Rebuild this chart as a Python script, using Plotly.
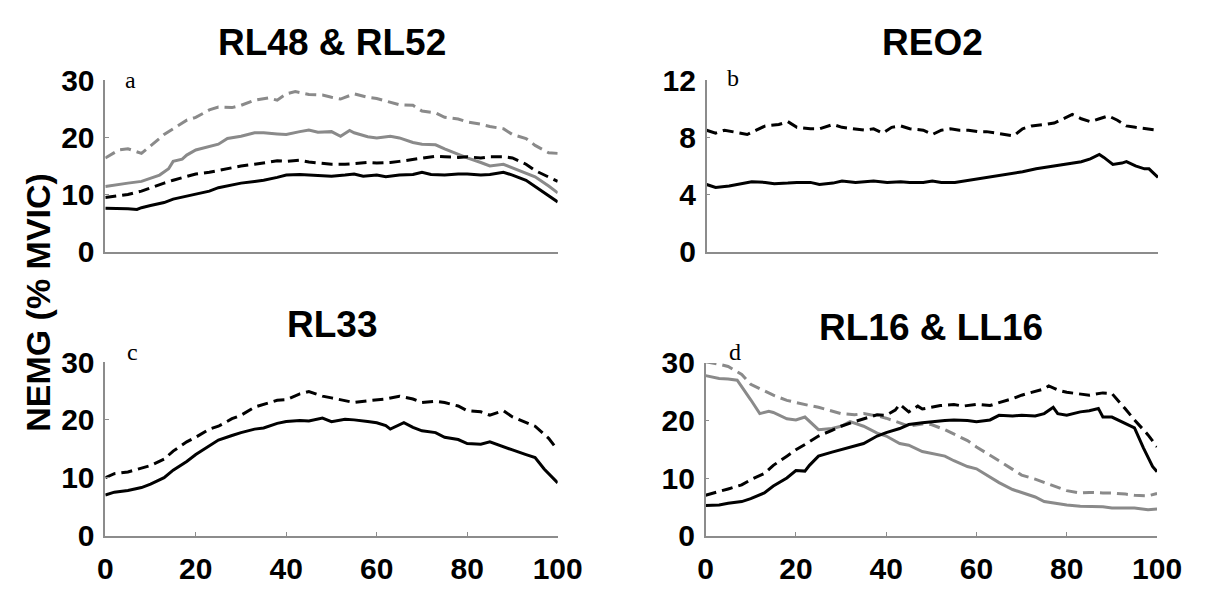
import plotly.graph_objects as go

# ---------------- data (x = % of cycle, y = NEMG % MVIC) ----------------
# Panel a: RL48 & RL52
a_gd_x = [0,3,5,8,10,13,15,18,20,23,25,28,30,33,36,38,40,42,45,48,50,52,55,58,60,63,65,68,70,73,75,78,80,83,85,88,90,93,95,98,100]
a_gd_y = [16.4,17.8,18.0,17.2,18.5,20.5,21.5,23,23.5,24.8,25.3,25.2,25.6,26.5,26.9,26.5,27.6,28,27.5,27.4,27,26.7,27.6,27,26.8,26.1,25.7,25.6,24.6,24.3,23.5,23.2,22.7,22.3,21.9,21.5,20.5,19.8,18.6,17.3,17.2]
a_gs_x = [0,3,5,8,10,12,14,15,17,18,20,22,25,27,30,33,35,38,40,43,45,47,50,52,54,55,58,60,63,65,68,70,73,75,78,80,83,85,88,90,93,95,98,100]
a_gs_y = [11.4,11.8,12,12.3,12.8,13.4,14.5,15.8,16.2,16.9,17.8,18.2,18.8,19.8,20.2,20.8,20.8,20.6,20.5,21,21.3,20.9,21,20.2,21.2,20.8,20.1,19.9,20.2,19.9,19.1,18.8,18.7,18,17,16.4,15.6,15,15.3,14.7,13.7,13.1,11.5,10.3]
a_bd_x = [0,3,5,8,10,13,15,18,20,23,25,28,30,33,35,38,40,43,45,48,50,53,55,58,60,63,65,68,70,73,75,78,80,83,85,88,90,93,95,98,100]
a_bd_y = [9.5,9.8,10,10.6,11.2,12,12.5,13.2,13.6,13.9,14.2,14.7,15,15.3,15.5,15.9,15.8,16,15.7,15.4,15.3,15.3,15.4,15.6,15.5,15.6,15.8,16.1,16.4,16.7,16.6,16.5,16.6,16.4,16.6,16.6,16.4,15.3,14.2,13,12.3]
a_bs_x = [0,3,5,7,8,10,13,15,18,20,23,25,28,30,33,35,38,40,43,45,48,50,53,55,57,60,62,65,68,70,72,75,78,80,83,85,88,90,93,95,98,100]
a_bs_y = [7.6,7.6,7.5,7.4,7.7,8.1,8.6,9.2,9.7,10,10.6,11.2,11.7,12,12.3,12.5,13,13.4,13.5,13.4,13.2,13.2,13.4,13.6,13.2,13.4,13.1,13.4,13.5,13.9,13.5,13.4,13.6,13.6,13.4,13.5,13.9,13.4,12.5,11.4,9.7,8.7]

# Panel b: REO2
b_bd_x = [0,2,4,6,9,11,13,16,18,20,23,25,27,28,30,32,35,37,39,41,43,45,48,50,52,54,56,58,60,62,64,66,68,70,72,75,77,79,81,83,85,87,89,91,93,95,97,100]
b_bd_y = [8.5,8.3,8.5,8.4,8.2,8.5,8.8,8.9,9.1,8.7,8.6,8.6,8.8,8.9,8.7,8.6,8.5,8.6,8.3,8.7,8.8,8.6,8.5,8.2,8.5,8.6,8.5,8.5,8.4,8.4,8.3,8.2,8.1,8.6,8.8,8.9,9.0,9.3,9.6,9.3,9.1,9.3,9.5,9.2,8.8,8.7,8.6,8.5]
b_bs_x = [0,2,5,8,10,13,15,18,20,23,25,28,30,33,35,37,40,43,45,48,50,52,55,58,60,63,65,68,70,73,75,78,80,83,85,87,88,90,92,93,95,97,98,100]
b_bs_y = [4.7,4.5,4.6,4.8,4.9,4.85,4.75,4.8,4.85,4.85,4.7,4.8,4.95,4.85,4.9,4.95,4.85,4.9,4.85,4.85,4.95,4.85,4.85,5.0,5.1,5.2,5.3,5.5,5.6,5.8,5.9,6.1,6.2,6.3,6.5,6.8,6.6,6.1,6.2,6.3,6.0,5.8,5.8,5.2]

# Panel c: RL33
c_bd_x = [0,2,5,8,10,13,15,18,20,23,25,28,30,33,35,38,40,43,45,48,50,53,55,58,60,62,65,68,70,73,75,78,80,83,85,88,90,93,95,98,100]
c_bd_y = [10,10.7,11,11.7,12.1,13.2,14.6,16.2,17,18.4,18.9,20.2,20.8,22.2,22.7,23.4,23.5,24.5,24.9,24.1,23.8,23.3,23,23.3,23.5,23.6,24.1,23.6,23,23.2,23,22.4,21.6,21.4,20.8,21.6,20.5,19.6,18.9,16.8,14.8]
c_bs_x = [0,2,5,8,10,13,15,18,20,23,25,28,30,33,35,38,40,43,45,48,50,53,55,58,60,62,63,66,68,70,73,75,78,80,83,85,88,90,93,95,97,100]
c_bs_y = [7,7.5,7.8,8.3,8.9,10,11.3,12.8,14,15.5,16.5,17.3,17.8,18.4,18.6,19.4,19.7,19.9,19.8,20.3,19.7,20.1,20,19.7,19.5,19,18.4,19.5,18.7,18.1,17.8,17,16.6,15.9,15.8,16.2,15.3,14.8,14,13.5,11.5,9.1]

# Panel d: RL16 & LL16
d_gd_x = [0,3,5,8,10,13,15,18,20,23,25,28,30,33,35,38,40,43,45,48,50,53,55,58,60,63,65,68,70,73,75,78,80,83,85,88,90,93,95,98,100]
d_gd_y = [30.2,29.8,29.4,28,26.3,25.2,24.4,23.5,23.1,22.6,22.3,21.7,21.2,21,21.2,20.8,20.4,19.6,19,19.4,19.3,18.4,17.6,16.5,15.4,14,13,11.5,10.5,9.8,9.2,8.3,7.8,7.4,7.5,7.4,7.4,7.2,7.0,6.9,7.3]
d_gs_x = [0,3,5,7,10,12,14,15,18,20,22,25,28,30,32,35,38,40,43,45,48,50,53,55,58,60,63,65,68,70,73,75,78,80,83,85,88,90,93,95,98,100]
d_gs_y = [27.8,27.3,27.2,27,23.6,21.2,21.6,21.4,20.3,20.1,20.6,18.4,18.6,19,19.8,19,17.8,17.3,16,15.7,14.6,14.3,13.8,13,12,11.6,10.2,9.2,8,7.5,6.7,5.9,5.5,5.3,5.1,5.1,5,4.8,4.8,4.8,4.5,4.6]
d_bd_x = [0,3,5,8,10,13,15,18,20,23,25,28,30,33,35,38,40,42,43,45,47,48,50,52,55,57,60,63,65,68,70,73,75,76,78,80,83,85,88,90,93,95,98,100]
d_bd_y = [7,7.6,8.1,8.8,9.7,10.8,12.2,13.8,14.9,16.3,17.3,18.3,19,19.8,20.3,21,20.9,21.8,22.8,21.5,22.5,22.0,22.3,22.6,22.8,22.5,22.8,22.6,23.1,23.8,24.4,25,25.5,26,25.3,24.9,24.6,24.4,24.8,24.7,22,20.1,17.5,15.4]
d_bs_x = [0,3,5,8,10,13,15,18,20,22,23,25,28,30,33,35,38,40,43,45,48,50,53,55,58,60,63,65,68,70,73,75,77,78,80,83,85,87,88,90,93,95,97,99,100]
d_bs_y = [5.2,5.3,5.6,5.9,6.4,7.4,8.6,10,11.3,11.2,12.2,13.8,14.5,14.9,15.5,16,17.3,17.9,18.6,19.3,19.6,19.8,20.0,20.1,20,19.8,20.1,20.9,20.8,20.9,20.8,21.2,22.3,21.2,20.9,21.5,21.7,22.1,20.6,20.6,19.5,18.7,15.2,12,11.1]

titles = ["RL48 & RL52", "REO2", "RL33", "RL16 & LL16"]
letters = ["a", "b", "c", "d"]
y_title = "NEMG (% MVIC)"
x_ticks = [0, 20, 40, 60, 80, 100]
y_ticks_30 = [0, 10, 20, 30]
y_ticks_12 = [0, 4, 8, 12]

# ---------------- styling ----------------
W, H = 1220, 594
GREY = "#8a8a8a"
AXC = "#8c8c8c"
DASH = "11px,6px"
LW = 3

def px_x(p):
    return p / W

def px_y(p):
    return 1 - p / H

fig = go.Figure()

panels = [
    ("x", "y", [(a_gd_x, a_gd_y, GREY, DASH), (a_gs_x, a_gs_y, GREY, "solid"),
                (a_bd_x, a_bd_y, "black", DASH), (a_bs_x, a_bs_y, "black", "solid")]),
    ("x2", "y2", [(b_bd_x, b_bd_y, "black", DASH), (b_bs_x, b_bs_y, "black", "solid")]),
    ("x3", "y3", [(c_bd_x, c_bd_y, "black", DASH), (c_bs_x, c_bs_y, "black", "solid")]),
    ("x4", "y4", [(d_gd_x, d_gd_y, GREY, DASH), (d_gs_x, d_gs_y, GREY, "solid"),
                  (d_bd_x, d_bd_y, "black", DASH), (d_bs_x, d_bs_y, "black", "solid")]),
]

for xa, ya, series in panels:
    for xs, ys, col, dash in series:
        fig.add_trace(go.Scatter(x=xs, y=ys, xaxis=xa, yaxis=ya, mode="lines",
                                 line=dict(color=col, width=LW, dash=dash),
                                 showlegend=False, hoverinfo="skip"))

# plot-area pixel boxes (left, right, top, bottom)
boxes = [(100, 565, 67, 249), (718, 1182, 67, 249), (100, 565, 366, 550), (717, 1181, 367, 550)]

tickfont = dict(family="Liberation Sans, Arial, sans-serif", size=30, color="black", weight="bold")
layout = dict(width=W, height=H, margin=dict(l=0, r=0, t=0, b=0),
              plot_bgcolor="white", paper_bgcolor="white", showlegend=False)

for i, (l, r, t, b) in enumerate(boxes):
    sx = "" if i == 0 else str(i + 1)
    bottom = i >= 2
    layout["xaxis" + sx] = dict(
        domain=[px_x(l), px_x(r)], range=[0, 100], anchor="y" + sx,
        showline=True, linecolor=AXC, linewidth=1.5, showgrid=False, zeroline=False,
        tickvals=x_ticks, ticks="inside" if bottom else "", ticklen=4, tickcolor=AXC,
        showticklabels=bottom, tickfont=tickfont, ticklabelstandoff=6, fixedrange=True)
    yt = y_ticks_12 if i == 1 else y_ticks_30
    layout["yaxis" + sx] = dict(
        domain=[px_y(b), px_y(t)], range=[0, yt[-1]], anchor="x" + sx,
        showline=True, linecolor=AXC, linewidth=1.5, showgrid=False, zeroline=False,
        tickvals=yt, ticks="inside", ticklen=4, tickcolor=AXC,
        tickfont=tickfont, ticklabelstandoff=3, fixedrange=True)

fig.update_layout(**layout)

title_font = dict(family="Liberation Sans, Arial, sans-serif", size=37, color="black", weight="bold")
title_y = [27.5, 27.5, 326, 329]
letter_pos = [(126, 67), (745, 65), (128, 355), (747, 355)]
for i, (l, r, t, b) in enumerate(boxes):
    fig.add_annotation(text=titles[i], xref="paper", yref="paper",
                       x=px_x((l + r) / 2), y=px_y(title_y[i]),
                       xanchor="center", yanchor="middle", showarrow=False, font=title_font)
    lx, ly = letter_pos[i]
    fig.add_annotation(text=letters[i], xref="paper", yref="paper",
                       x=px_x(lx), y=px_y(ly), xanchor="center", yanchor="middle",
                       showarrow=False,
                       font=dict(family="Liberation Serif, Times New Roman, serif", size=24, color="black"))

fig.add_annotation(text=y_title, xref="paper", yref="paper", x=px_x(30), y=px_y(303),
                   xanchor="center", yanchor="middle", textangle=-90, showarrow=False,
                   font=dict(family="Liberation Sans, Arial, sans-serif", size=34, color="black", weight="bold"))

fig.write_html("out.html", config={"displayModeBar": False},
               post_script="document.body.style.margin='0';")
